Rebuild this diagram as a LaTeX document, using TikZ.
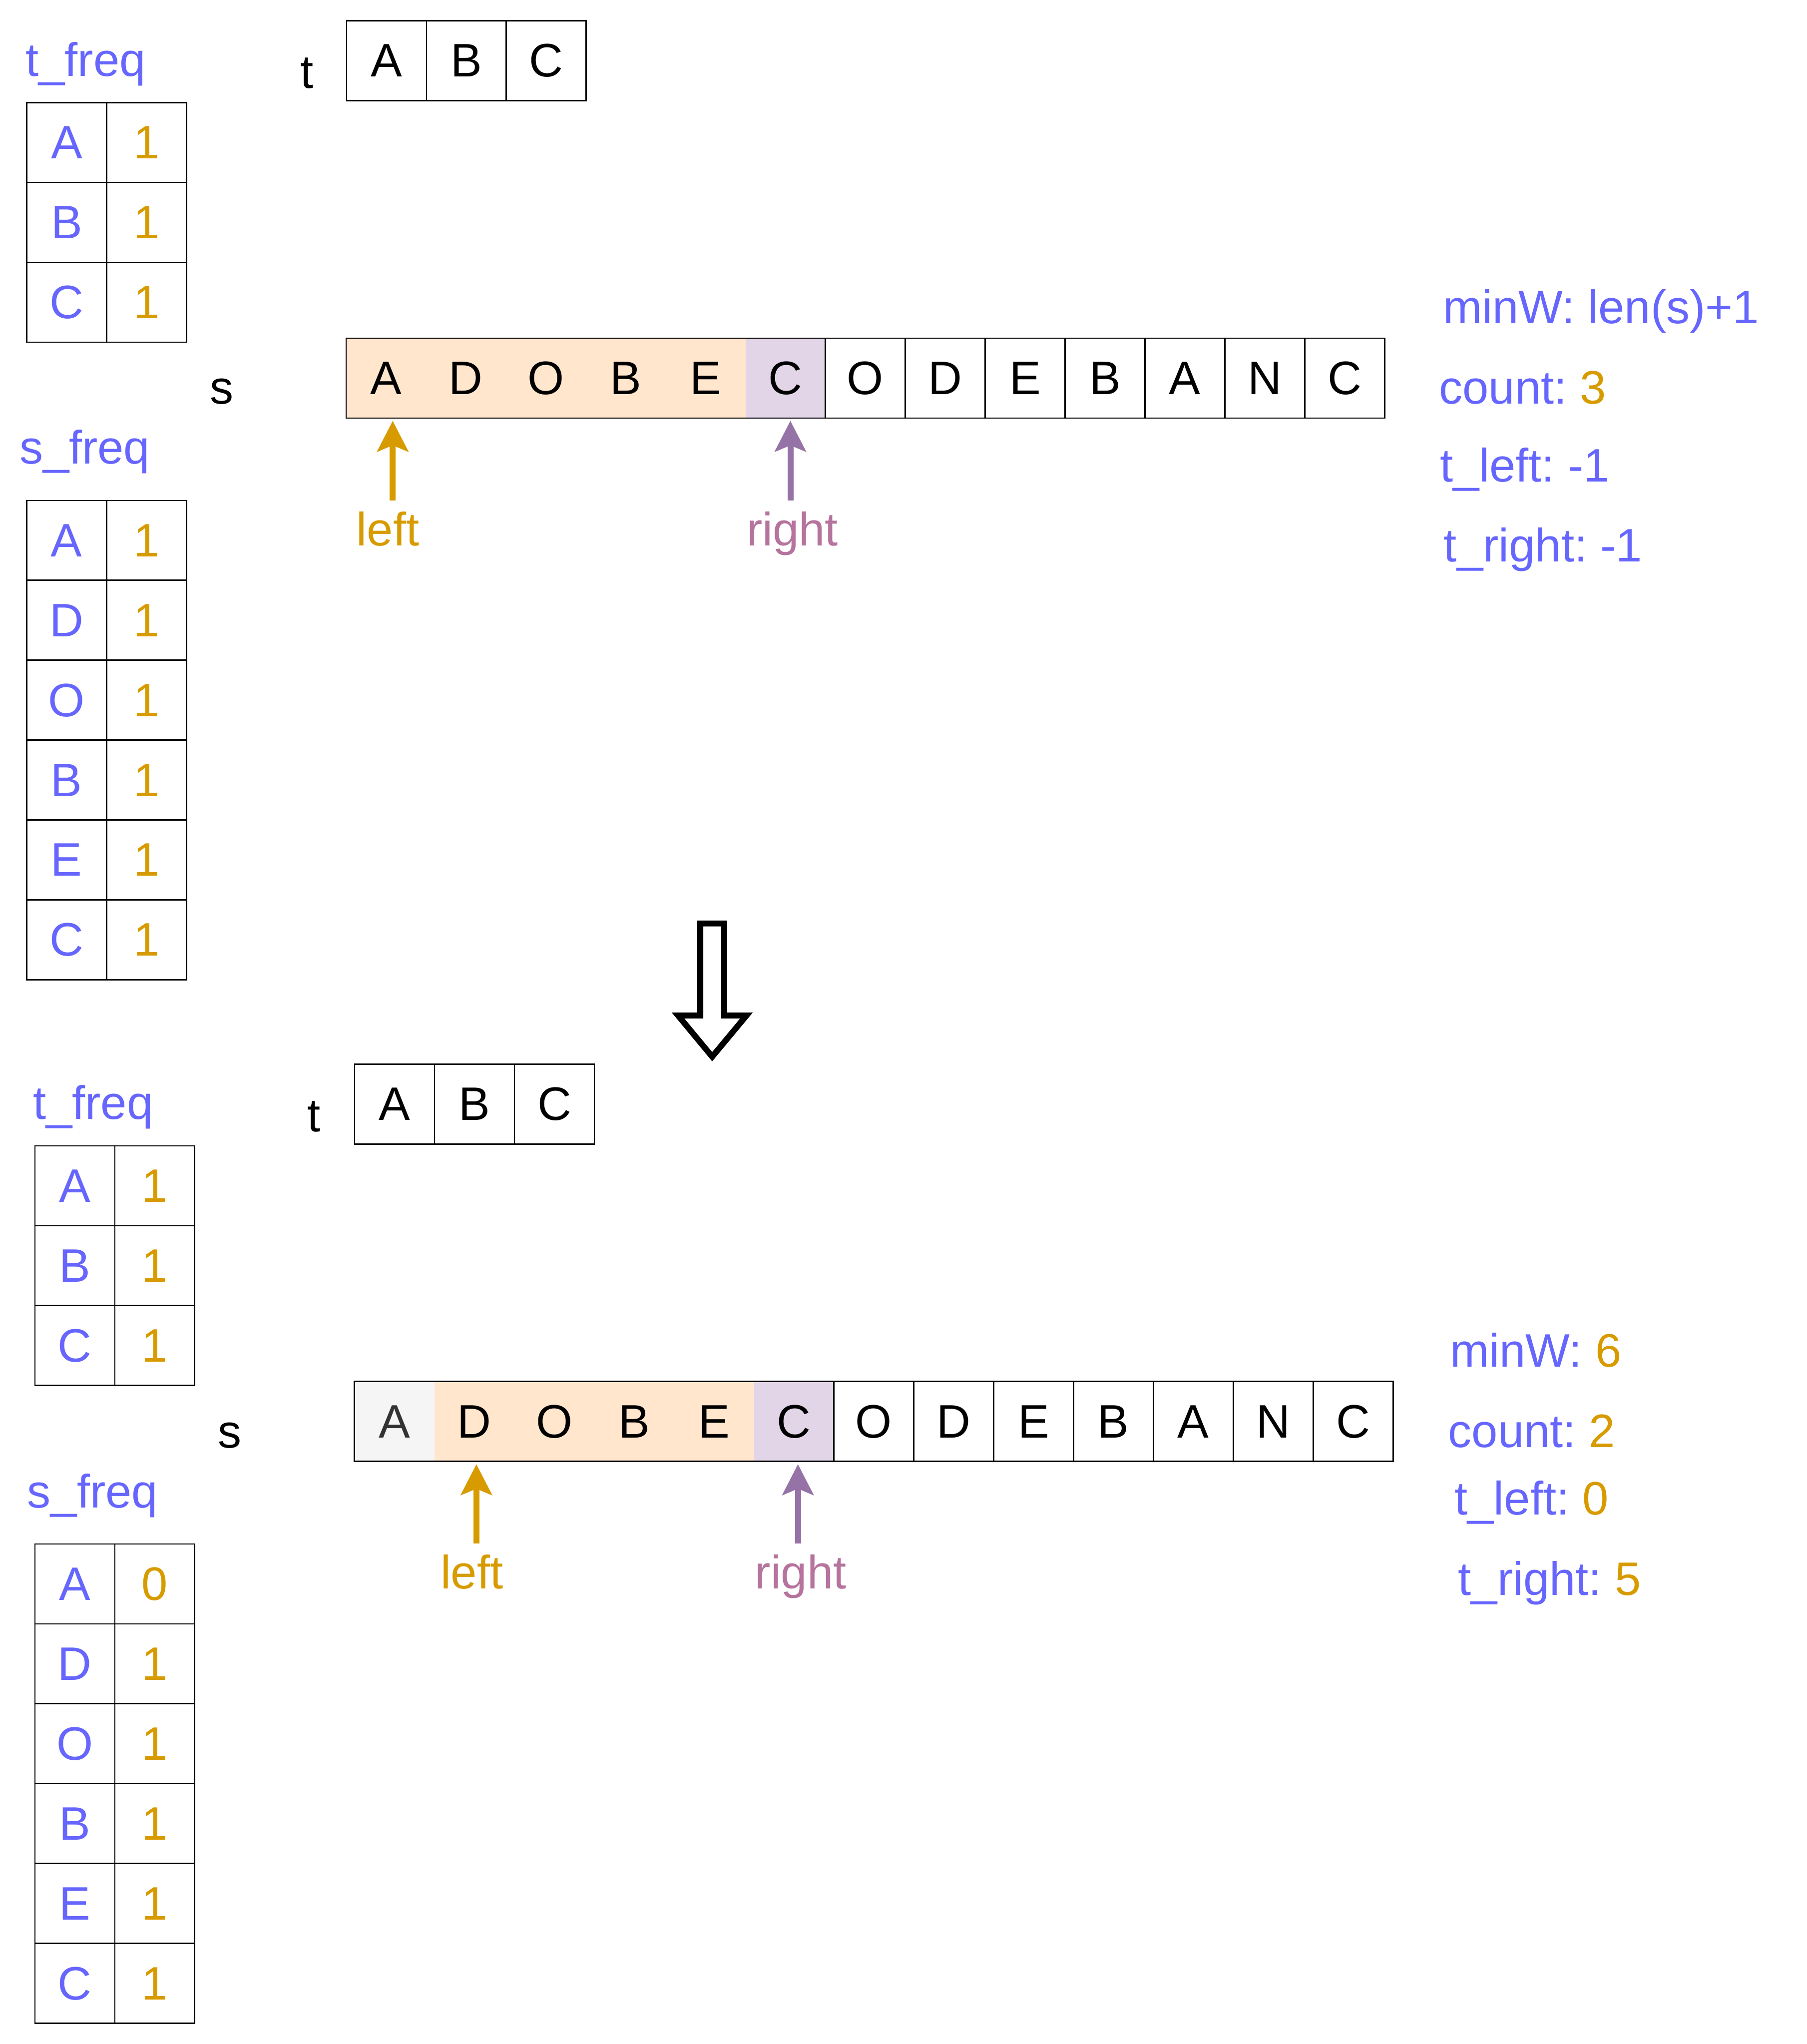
\documentclass[tikz,border=0pt]{standalone}
\usepackage{fontspec}
\setmainfont{Liberation Sans}
\usetikzlibrary{positioning,arrows.meta}
\frenchspacing

\definecolor{keyblue}{HTML}{6666FF}
\definecolor{valorange}{HTML}{D79B00}
\definecolor{winpeach}{HTML}{FFE6CC}
\definecolor{winpurple}{HTML}{E1D5E7}
\definecolor{ptrpurple}{HTML}{9673A6}
\definecolor{rightpink}{HTML}{B5739D}
\definecolor{outgray}{HTML}{F5F5F5}
\definecolor{outtext}{HTML}{333333}

\begin{document}
\begin{tikzpicture}[x=0.02cm,y=-0.02cm,font=\fontsize{20.5}{24}\selectfont,
  cell/.style={draw,line width=0.6pt,minimum width=1.226cm,minimum height=1.226cm,inner sep=0pt,outer sep=0pt},
  hcell/.style={minimum width=1.226cm,minimum height=1.226cm,inner sep=0pt,outer sep=0pt},
  key/.style={cell,text=keyblue},val/.style={cell,text=valorange},
  lbl/.style={inner sep=0pt,anchor=base west,text=keyblue},
  ptr/.style={line width=2.6pt,shorten >=1.2pt,-{Stealth[length=13.4pt,width=13.5pt,inset=2.7pt]}}]
  \useasboundingbox (0,0) rectangle (1386,1568);
  % stav pred posunem (nahore)
  \node[anchor=base] (tlbl) at (235.5,67.7) {t};
  \node[cell] (t1) at (296.55,46.45) {A}; \node[cell,right=0pt of t1] (t2) {B}; \node[cell,right=0pt of t2] (t3) {C};
  \node[lbl] (tfl) at (19.3,58.4) {t\_freq};
  \node[key] (tk1) at (51.15,109.25) {A}; \node[val,right=0pt of tk1] (tv1) {1};
  \node[key,below=0pt of tk1] (tk2) {B}; \node[val,right=0pt of tk2] (tv2) {1};
  \node[key,below=0pt of tk2] (tk3) {C}; \node[val,right=0pt of tk3] (tv3) {1};
  % retezec s s oknem
  \node[anchor=base] (slbl) at (170,309.8) {s};
  \node[hcell,fill=winpeach] (s1) at (296.15,290.05) {A}; \node[hcell,fill=winpeach,right=0pt of s1] (s2) {D}; \node[hcell,fill=winpeach,right=0pt of s2] (s3) {O};
  \node[hcell,fill=winpeach,right=0pt of s3] (s4) {B}; \node[hcell,fill=winpeach,right=0pt of s4] (s5) {E}; \node[hcell,fill=winpurple,right=0pt of s5] (s6) {C};
  \draw[line width=0.6pt] (s1.north west) rectangle (s6.south east);
  \node[cell,right=0pt of s6] (s7) {O}; \node[cell,right=0pt of s7] (s8) {D}; \node[cell,right=0pt of s8] (s9) {E}; \node[cell,right=0pt of s9] (s10) {B};
  \node[cell,right=0pt of s10] (s11) {A}; \node[cell,right=0pt of s11] (s12) {N}; \node[cell,right=0pt of s12] (s13) {C};
  \node[lbl] (sfl) at (14.6,355.8) {s\_freq};
  \node[key] (sk1) at (51.05,414.55) {A}; \node[val,right=0pt of sk1] (sv1) {1};
  \node[key,below=0pt of sk1] (sk2) {D}; \node[val,right=0pt of sk2] (sv2) {1};
  \node[key,below=0pt of sk2] (sk3) {O}; \node[val,right=0pt of sk3] (sv3) {1};
  \node[key,below=0pt of sk3] (sk4) {B}; \node[val,right=0pt of sk4] (sv4) {1};
  \node[key,below=0pt of sk4] (sk5) {E}; \node[val,right=0pt of sk5] (sv5) {1};
  \node[key,below=0pt of sk5] (sk6) {C}; \node[val,right=0pt of sk6] (sv6) {1};
  % ukazatele
  \coordinate (lp) at (301.3,384); \coordinate (rp) at (606.4,384);
  \draw[ptr,valorange] (lp) -- (lp |- s1.south);
  \draw[ptr,ptrpurple] (rp) -- (rp |- s6.south);
  \node[anchor=base,text=valorange] (lft) at (297.6,418.6) {left};
  \node[anchor=base,text=rightpink] (rgt) at (608,418.6) {right};
  % promenne
  \node[lbl] (minw) at (1106.7,248.3) {minW: len(s)+1};
  \node[lbl] (cnt) at (1103.8,309.8) {count: \textcolor{valorange}{3}};
  \node[lbl] (tl) at (1104.4,369.7) {t\_left: -1};
  \node[lbl] (tr) at (1107.4,430.8) {t\_right: -1};
  % prechod
  \draw[line width=2.6pt,fill=white] (537.3,708.4) -- (555.6,708.4) -- (555.6,779) -- (572.7,779) -- (546.4,810.6) -- (520.2,779) -- (537.3,779) -- cycle;
  % stav po posunu (dole)
  \node[anchor=base] (ntlbl) at (240.9,868.2) {t};
  \node[cell] (nt1) at (302.75,847.05) {A}; \node[cell,right=0pt of nt1] (nt2) {B}; \node[cell,right=0pt of nt2] (nt3) {C};
  \node[lbl] (ntfl) at (25,858.6) {t\_freq};
  \node[key] (ntk1) at (57.45,909.65) {A}; \node[val,right=0pt of ntk1] (ntv1) {1};
  \node[key,below=0pt of ntk1] (ntk2) {B}; \node[val,right=0pt of ntk2] (ntv2) {1};
  \node[key,below=0pt of ntk2] (ntk3) {C}; \node[val,right=0pt of ntk3] (ntv3) {1};
  \node[anchor=base] (nslbl) at (176.3,1110.5) {s};
  \node[hcell,fill=outgray,text=outtext] (ns1) at (302.65,1090.45) {A}; \node[hcell,fill=winpeach,right=0pt of ns1] (ns2) {D}; \node[hcell,fill=winpeach,right=0pt of ns2] (ns3) {O};
  \node[hcell,fill=winpeach,right=0pt of ns3] (ns4) {B}; \node[hcell,fill=winpeach,right=0pt of ns4] (ns5) {E}; \node[hcell,fill=winpurple,right=0pt of ns5] (ns6) {C};
  \draw[line width=0.6pt] (ns1.north west) rectangle (ns6.south east);
  \node[cell,right=0pt of ns6] (ns7) {O}; \node[cell,right=0pt of ns7] (ns8) {D}; \node[cell,right=0pt of ns8] (ns9) {E}; \node[cell,right=0pt of ns9] (ns10) {B};
  \node[cell,right=0pt of ns10] (ns11) {A}; \node[cell,right=0pt of ns11] (ns12) {N}; \node[cell,right=0pt of ns12] (ns13) {C};
  \node[lbl] (nsfl) at (20.7,1156.5) {s\_freq};
  \node[key] (nsk1) at (57.45,1215.05) {A}; \node[val,right=0pt of nsk1] (nsv1) {0};
  \node[key,below=0pt of nsk1] (nsk2) {D}; \node[val,right=0pt of nsk2] (nsv2) {1};
  \node[key,below=0pt of nsk2] (nsk3) {O}; \node[val,right=0pt of nsk3] (nsv3) {1};
  \node[key,below=0pt of nsk3] (nsk4) {B}; \node[val,right=0pt of nsk4] (nsv4) {1};
  \node[key,below=0pt of nsk4] (nsk5) {E}; \node[val,right=0pt of nsk5] (nsv5) {1};
  \node[key,below=0pt of nsk5] (nsk6) {C}; \node[val,right=0pt of nsk6] (nsv6) {1};
  \coordinate (nlp) at (365.5,1184); \coordinate (nrp) at (612.2,1184);
  \draw[ptr,valorange] (nlp) -- (nlp |- ns2.south);
  \draw[ptr,ptrpurple] (nrp) -- (nrp |- ns6.south);
  \node[anchor=base,text=valorange] (nlft) at (362,1218.8) {left};
  \node[anchor=base,text=rightpink] (nrgt) at (614.3,1218.8) {right};
  \node[lbl] (nminw) at (1112.2,1048.5) {minW: \textcolor{valorange}{6}};
  \node[lbl] (ncnt) at (1110.8,1110.2) {count: \textcolor{valorange}{2}};
  \node[lbl] (ntl) at (1115.7,1162.1) {t\_left: \textcolor{valorange}{0}};
  \node[lbl] (ntr) at (1118.4,1223.8) {t\_right: \textcolor{valorange}{5}};
\end{tikzpicture}
\end{document}
